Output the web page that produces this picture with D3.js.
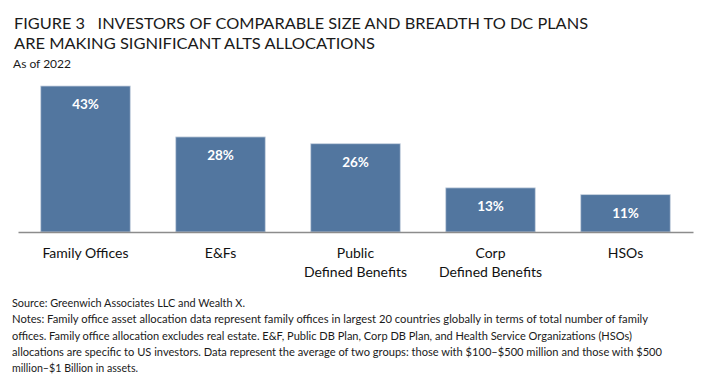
<!DOCTYPE html>
<html>
<head>
<meta charset="utf-8">
<script src="https://cdn.jsdelivr.net/npm/d3@7"></script>
<style>
  body { margin: 0; background: #fff; }
  svg text { font-family: Lato, "Open Sans", sans-serif; white-space: pre; }
</style>
</head>
<body>
<svg id="chart" width="712" height="386"></svg>
<script>
// data
var categories = ["Family Offices", "E&Fs", "Public|Defined Benefits", "Corp|Defined Benefits", "HSOs"];
var values = [43, 28, 26, 13, 11];
var titleLines = ["FIGURE 3   INVESTORS OF COMPARABLE SIZE AND BREADTH TO DC PLANS", "ARE MAKING SIGNIFICANT ALTS ALLOCATIONS"];
var subtitle = "As of 2022";
var noteLines = [
  "Source: Greenwich Associates LLC and Wealth X.",
  "Notes: Family office asset allocation data represent family offices in largest 20 countries globally in terms of total number of family",
  "offices. Family office allocation excludes real estate. E&F, Public DB Plan, Corp DB Plan, and Health Service Organizations (HSOs)",
  "allocations are specific to US investors. Data represent the average of two groups: those with $100\u2013$500 million and those with $500",
  "million\u2013$1 Billion in assets."
];

var svg = d3.select("#chart");

// title block
var titleWidths = [574, 361];
svg.selectAll("text.title")
  .data(titleLines)
  .enter().append("text")
    .attr("class", "title")
    .attr("x", 14)
    .attr("y", function(d, i) { return 29 + i * 20.3; })
    .attr("textLength", function(d, i) { return titleWidths[i]; })
    .attr("lengthAdjust", "spacingAndGlyphs")
    .style("font-size", "14.5px")
    .style("fill", "#1a1a1a")
    .text(function(d) { return d; });

svg.append("text")
  .attr("x", 13)
  .attr("y", 67.5)
  .attr("textLength", 58)
  .attr("lengthAdjust", "spacingAndGlyphs")
  .style("font-size", "11px")
  .style("fill", "#1a1a1a")
  .text(subtitle);

// chart area
var baseY = 232;
var x = d3.scaleBand()
  .domain(categories)
  .range([18, 693])
  .paddingInner(0.337)
  .paddingOuter(0.1685);

var y = d3.scaleLinear()
  .domain([0, 43])
  .range([baseY, 86]);

var g = svg.append("g");

g.selectAll("rect.bar")
  .data(values)
  .enter().append("rect")
    .attr("class", "bar")
    .attr("x", function(d, i) { return x(categories[i]); })
    .attr("y", function(d) { return y(d); })
    .attr("width", x.bandwidth())
    .attr("height", function(d) { return baseY - y(d); })
    .style("fill", "#52769f")
    .style("stroke", "#c9d3e0")
    .style("stroke-width", 0.8);

g.selectAll("text.val")
  .data(values)
  .enter().append("text")
    .attr("class", "val")
    .attr("x", function(d, i) { return x(categories[i]) + x.bandwidth() / 2; })
    .attr("y", function(d) { return y(d) + 23; })
    .attr("text-anchor", "middle")
    .style("font-size", "13.5px")
    .style("font-weight", "bold")
    .style("fill", "#fff")
    .text(function(d) { return d + "%"; });

// baseline axis
var xAxis = d3.axisBottom(x).tickSize(0).tickFormat("");
var axisG = svg.append("g")
  .attr("transform", "translate(0," + baseY + ")")
  .call(xAxis);
axisG.select(".domain").attr("stroke", "#8c8c8c").attr("stroke-width", 1.3);

// category labels (two lines where split)
var labels = svg.selectAll("text.cat")
  .data(categories)
  .enter().append("text")
    .attr("class", "cat")
    .attr("text-anchor", "middle")
    .style("font-size", "14px")
    .style("fill", "#111");

labels.each(function(d) {
  var t = d3.select(this);
  var cx = x(d) + x.bandwidth() / 2;
  d.split("|").forEach(function(line, i) {
    t.append("tspan")
      .attr("x", cx)
      .attr("y", 257.5 + i * 19)
      .text(line);
  });
});

// source and notes
var noteWidths = [233, 636, 620, 650, 126];
svg.selectAll("text.note")
  .data(noteLines)
  .enter().append("text")
    .attr("class", "note")
    .attr("x", 12)
    .attr("y", function(d, i) { return 307 + i * 16.3; })
    .attr("textLength", function(d, i) { return noteWidths[i]; })
    .attr("lengthAdjust", "spacingAndGlyphs")
    .style("font-size", "11px")
    .style("fill", "#1a1a1a")
    .text(function(d) { return d; });
</script>
</body>
</html>
